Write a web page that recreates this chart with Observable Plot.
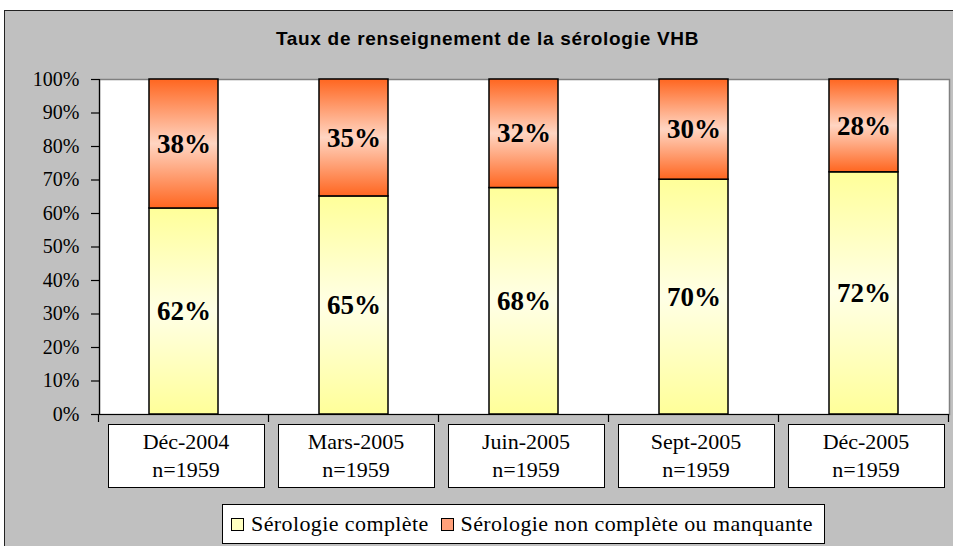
<!DOCTYPE html>
<html><head><meta charset="utf-8">
<script src="https://cdn.jsdelivr.net/npm/d3@7"></script>
<script src="https://cdn.jsdelivr.net/npm/@observablehq/plot@0.6"></script>
<style>
body{margin:0;background:#fff;}
#wrap{position:relative;width:953px;height:546px;overflow:hidden;font-family:"Liberation Serif","Times New Roman",serif;}
#bg{position:absolute;left:4px;top:10px;width:980px;height:600px;background:#c0c0c0;border:1.5px solid #222;box-sizing:border-box;}
#title{position:absolute;left:22px;right:0;top:28px;text-align:center;font-family:"Liberation Sans",Arial,sans-serif;font-weight:bold;font-size:19px;letter-spacing:0.7px;line-height:22px;color:#000;}
#chart{position:absolute;left:0;top:0;}
.cat{position:absolute;background:#fff;border:1.5px solid #000;box-sizing:border-box;text-align:center;font-family:"Liberation Serif","Times New Roman",serif;font-size:22px;line-height:28px;padding-top:3px;color:#000;}
#legend{position:absolute;left:222px;top:504px;width:603px;height:40px;background:#fff;border:1.5px solid #000;box-sizing:border-box;font-family:"Liberation Serif","Times New Roman",serif;font-size:22px;letter-spacing:0.4px;line-height:37px;white-space:nowrap;padding-left:8px;color:#000;}
.sw{display:inline-block;width:13px;height:13px;border:1.3px solid #000;box-sizing:border-box;vertical-align:0px;margin-right:7px;}
</style></head>
<body>
<div id="wrap">
  <div id="bg"></div>
  <div id="title">Taux de renseignement de la sérologie VHB</div>
  <div id="chart"></div>
  <div id="legend"><span class="sw" style="background:#ffffc0"></span>Sérologie complète <span class="sw" style="background:#ffa07a;margin-left:6px"></span>Sérologie non complète ou manquante</div>
</div>
<script>
const categories = ["Déc-2004", "Mars-2005", "Juin-2005", "Sept-2005", "Déc-2005"];
const sampleSizes = ["n=1959", "n=1959", "n=1959", "n=1959", "n=1959"];
const seriesNames = ["Sérologie complète", "Sérologie non complète ou manquante"];
const complete = [61.5, 65.1, 67.6, 70.1, 72.3];
const incomplete = [38.5, 34.9, 32.4, 29.9, 27.7];
const completeLabels = ["62%", "65%", "68%", "70%", "72%"];
const incompleteLabels = ["38%", "35%", "32%", "30%", "28%"];
const yTicks = [0, 10, 20, 30, 40, 50, 60, 70, 80, 90, 100];

const data = [];
categories.forEach((c, i) => {
  data.push({cat: c, series: seriesNames[0], value: complete[i], label: completeLabels[i]});
  data.push({cat: c, series: seriesNames[1], value: incomplete[i], label: incompleteLabels[i]});
});

const plot = Plot.plot({
  width: 953, height: 546,
  marginLeft: 99, marginRight: 4, marginTop: 79, marginBottom: 132,
  style: {background: "transparent", fontFamily: "Liberation Serif, Times New Roman, serif", color: "#000"},
  x: {domain: categories, paddingInner: 0.594, paddingOuter: 0.297, axis: null},
  y: {domain: [0, 100], axis: null},
  color: {domain: seriesNames, range: ["url(#gY)", "url(#gO)"]},
  marks: [
    Plot.frame({fill: "white", stroke: "#808080", strokeWidth: 1.5}),
    Plot.barY(data, {x: "cat", y: "value", fill: "series", stroke: "#000", strokeWidth: 1.5}),
    Plot.text(data, Plot.stackY({x: "cat", y: "value", text: "label", fontSize: 27, fontWeight: "bold", fill: "#000"})),
    Plot.axisY({ticks: yTicks, label: null, tickFormat: d => d + "%", tickSize: 8, tickPadding: 12, fontSize: 20, stroke: "#000", fill: "#000", strokeWidth: 1.2}),
    Plot.ruleY([0], {stroke: "#000", strokeWidth: 1.2}),
    Plot.frame({anchor: "left", stroke: "#000", strokeWidth: 1.2})
  ]
});

// gradients
const svg = d3.select(plot);
const defs = svg.insert("defs", ":first-child");
const gO = defs.append("linearGradient").attr("id", "gO").attr("x1", 0).attr("y1", 0).attr("x2", 0).attr("y2", 1);
gO.append("stop").attr("offset", "0%").attr("stop-color", "#ff6620");
gO.append("stop").attr("offset", "50%").attr("stop-color", "#ffd5c2");
gO.append("stop").attr("offset", "100%").attr("stop-color", "#ff6620");
const gY = defs.append("linearGradient").attr("id", "gY").attr("x1", 0).attr("y1", 0).attr("x2", 0).attr("y2", 1);
gY.append("stop").attr("offset", "0%").attr("stop-color", "#ffff99");
gY.append("stop").attr("offset", "50%").attr("stop-color", "#ffffe6");
gY.append("stop").attr("offset", "100%").attr("stop-color", "#ffff99");

document.getElementById("chart").appendChild(plot);

// band boundary ticks and category boxes from the x scale
const xs = plot.scale("x");
const ys = plot.scale("y");
const step = xs.step, bw = xs.bandwidth;
const y0 = ys.apply(0);
const edges = categories.map(c => xs.apply(c) - (step - bw) / 2);
edges.push(edges[edges.length - 1] + step);
svg.append("g").selectAll("line").data(edges).join("line")
  .attr("x1", d => d).attr("x2", d => d).attr("y1", y0).attr("y2", y0 + 8)
  .attr("stroke", "#000").attr("stroke-width", 1.2);

const wrap = document.getElementById("wrap");
categories.forEach((c, i) => {
  const d = document.createElement("div");
  d.className = "cat";
  d.style.left = (edges[i] + 9) + "px";
  d.style.top = (y0 + 10) + "px";
  d.style.width = (step - 13) + "px";
  d.style.height = "64px";
  d.innerHTML = c + "<br>" + sampleSizes[i];
  wrap.appendChild(d);
});
</script>
</body></html>
